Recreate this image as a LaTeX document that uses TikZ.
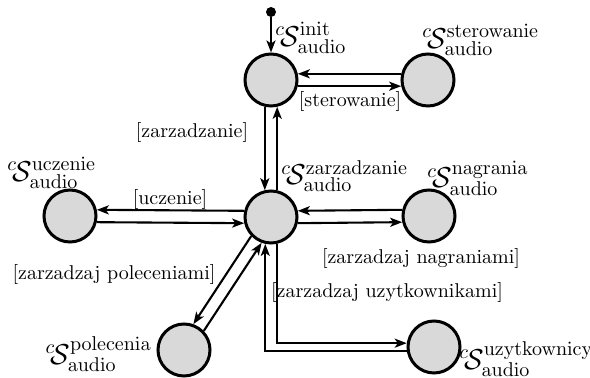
\documentclass[tikz,border=0pt]{standalone}
\usetikzlibrary{arrows.meta}

\begin{document}
\begin{tikzpicture}[x=.5pt,y=-.5pt,
  stan/.style={circle,draw=black,line width=1.5pt,fill=black!15,minimum size=26pt,inner sep=0pt},
  przeplyw/.style={line width=1.05pt,-{Stealth[length=6pt,width=4.5pt,inset=1.5pt]}},
  nazwa/.style={font=\Large,inner sep=0pt},
  kanal/.style={inner sep=1pt}]
\useasboundingbox (0,0) rectangle (590,378);
% stany
\node[stan] (init) at (271,80) {};
\node[stan] (ster) at (428,80) {};
\node[stan] (zarz) at (271,217) {};
\node[stan] (ucz) at (70,216) {};
\node[stan] (nagr) at (429,216) {};
\node[stan] (pol) at (184,350) {};
\node[stan] (uzyt) at (434,347) {};
\node[circle,fill=black,inner sep=0pt,minimum size=5pt] (start) at (271,12) {};
% nazwy stanow
\node[nazwa,anchor=west] at (275,38) {${}^{c}\!\mathcal{S}^{\mathrm{init}}_{\mathrm{audio}}$};
\node[nazwa,anchor=west] at (422,40) {${}^{c}\!\mathcal{S}^{\mathrm{sterowanie}}_{\mathrm{audio}}$};
\node[nazwa,anchor=west] at (281,176) {${}^{c}\!\mathcal{S}^{\mathrm{zarzadzanie}}_{\mathrm{audio}}$};
\node[nazwa,anchor=west] at (7,173) {${}^{c}\!\mathcal{S}^{\mathrm{uczenie}}_{\mathrm{audio}}$};
\node[nazwa,anchor=west] at (427,178) {${}^{c}\!\mathcal{S}^{\mathrm{nagrania}}_{\mathrm{audio}}$};
\node[nazwa,anchor=east] at (152,354) {${}^{c}\!\mathcal{S}^{\mathrm{polecenia}}_{\mathrm{audio}}$};
\node[nazwa,anchor=west] at (459,359) {${}^{c}\!\mathcal{S}^{\mathrm{uzytkownicy}}_{\mathrm{audio}}$};
% przejscia
\draw[przeplyw] (start) -- (init);
\draw[przeplyw] (ster.167) -- (init.13);
\draw[przeplyw] (init.347) -- (ster.193);
\draw[przeplyw] (init.257) -- (zarz.103);
\draw[przeplyw] (zarz.77) -- (init.283);
\draw[przeplyw] (zarz.167) -- (ucz.13);
\draw[przeplyw] (ucz.347) -- (zarz.193);
\draw[przeplyw] (nagr.167) -- (zarz.13);
\draw[przeplyw] (zarz.347) -- (nagr.193);
\draw[przeplyw] (zarz.224) -- (pol.70);
\draw[przeplyw] (pol.44) -- (zarz.250);
\draw[przeplyw] (uzyt.188) -| (zarz.258);
\draw[przeplyw] (zarz.282) |- (uzyt.172);
% etykiety kanalow
\node[kanal] at (350,102) {[sterowanie]};
\node[kanal] at (192,133) {[zarzadzanie]};
\node[kanal] at (170,200) {[uczenie]};
\node[kanal] at (421,259) {[zarzadzaj nagraniami]};
\node[kanal] at (114,275) {[zarzadzaj poleceniami]};
\node[kanal] at (387,293) {[zarzadzaj uzytkownikami]};
\end{tikzpicture}
\end{document}
